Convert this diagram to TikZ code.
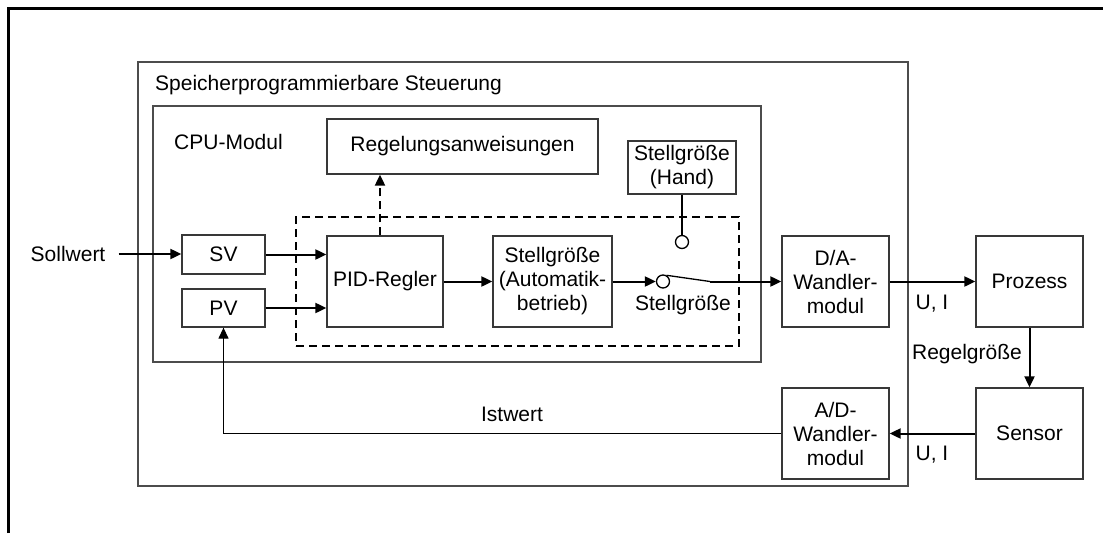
\documentclass[tikz,border=0pt]{standalone}
\usepackage{fontspec}
\setmainfont{Liberation Sans}
\usetikzlibrary{arrows.meta,calc}
\begin{document}
\begin{tikzpicture}[x=1pt,y=-1pt,
  every node/.style={font=\fontsize{21}{24}\selectfont, inner sep=0pt},
  blk/.style={draw=black!78, line width=1.3pt, align=center},
  frame/.style={draw=black!70, line width=1.3pt},
  sig/.style={draw=black, line width=2pt, -{Triangle[length=11pt,width=10pt]}},
  dsig/.style={draw=black, line width=2pt, dash pattern=on 8pt off 5pt, -{Triangle[length=11pt,width=10pt]}},
  fb/.style={draw=black, line width=1.3pt, -{Triangle[length=11pt,width=10pt]}},
  contact/.style={circle, draw=black, line width=1.3pt, fill=white, minimum size=13pt}
]
\useasboundingbox (0,0) rectangle (1103,533);

% page frame (top and left edge)
\draw[line width=3pt] (8,533) -- (8,8) -- (1103,8);

% PLC and CPU module
\node[frame, minimum width=770pt, minimum height=424pt] (sps) at (523,274) {};
\node[anchor=west] (spslbl) at (155,85) {Speicherprogrammierbare Steuerung};
\node[frame, minimum width=608pt, minimum height=256pt] (cpu) at (457,234) {};
\node[anchor=west] (cpulbl) at (174,142) {CPU-Modul};

% PID function block (dashed)
\node[draw=black, line width=2pt, dash pattern=on 8pt off 5pt, minimum width=443pt, minimum height=129pt] (pidblk) at (517.5,281.5) {};

% blocks
\node[blk, minimum width=271pt, minimum height=55pt] (reg) at (462.5,146.5) {Regelungsanweisungen};
\node[blk, minimum width=108pt, minimum height=53pt] (hand) at (682,167.5) {Stellgröße\\(Hand)};
\node[blk, minimum width=83pt, minimum height=39pt] (sv) at (223.5,254.5) {SV};
\node[blk, minimum width=83pt, minimum height=38pt] (pv) at (223.5,308) {PV};
\node[blk, minimum width=116pt, minimum height=91pt] (pid) at (385,281.5) {PID-Regler};
\node[blk, minimum width=119pt, minimum height=91pt] (auto) at (552.5,281.5) {Stellgröße\\(Automatik-\\betrieb)};
\node[blk, minimum width=107pt, minimum height=91pt] (da) at (835.5,281.5) {D/A-\\Wandler-\\modul};
\node[blk, minimum width=107pt, minimum height=91pt] (proz) at (1029.5,281.5) {Prozess};
\node[blk, minimum width=107pt, minimum height=91pt] (sens) at (1029.5,433.5) {Sensor};
\node[blk, minimum width=107pt, minimum height=91pt] (ad) at (835.5,433.5) {A/D-\\Wandler-\\modul};

% switch contacts
\node[contact] (chand) at (682,242) {};
\node[contact] (cauto) at (663,281.5) {};
\coordinate (blade) at (710,281.5);

% labels
\node (soll) at (68,254) {Sollwert};
\node (swlbl) at (683,305) {Stellgröße};
\node (ui1) at (932,304) {U, I};
\node (ui2) at (932,455) {U, I};
\node (rg) at (967,354) {Regelgröße};
\node (ist) at (512,414) {Istwert};

% connectors
\draw[sig] (soll.east) ++(13,0) coordinate (sollstart) -- (sollstart -| sv.west);
\draw[sig] (sv.east) -- (sv.east -| pid.west);
\draw[sig] (pv.east) -- (pv.east -| pid.west);
\draw[dsig] ([xshift=-5pt]pid.north) -- ([xshift=-5pt]pid.north |- reg.south);
\draw[sig] (pid.east) -- (auto.west);
\draw[sig] (auto.east) -- (cauto.west);
\draw[line width=1.3pt] (hand.south) -- (chand.north);
\draw[line width=1.3pt] (cauto.60) -- (blade);
\draw[sig] (blade) -- (da.west);
\draw[sig] (da.east) -- (proz.west);
\draw[sig] (proz.south) -- (sens.north);
\draw[sig] (sens.west) -- (ad.east);
\draw[fb] (ad.west) -- (ad.west -| pv.south) -- (pv.south);
\end{tikzpicture}
\end{document}
